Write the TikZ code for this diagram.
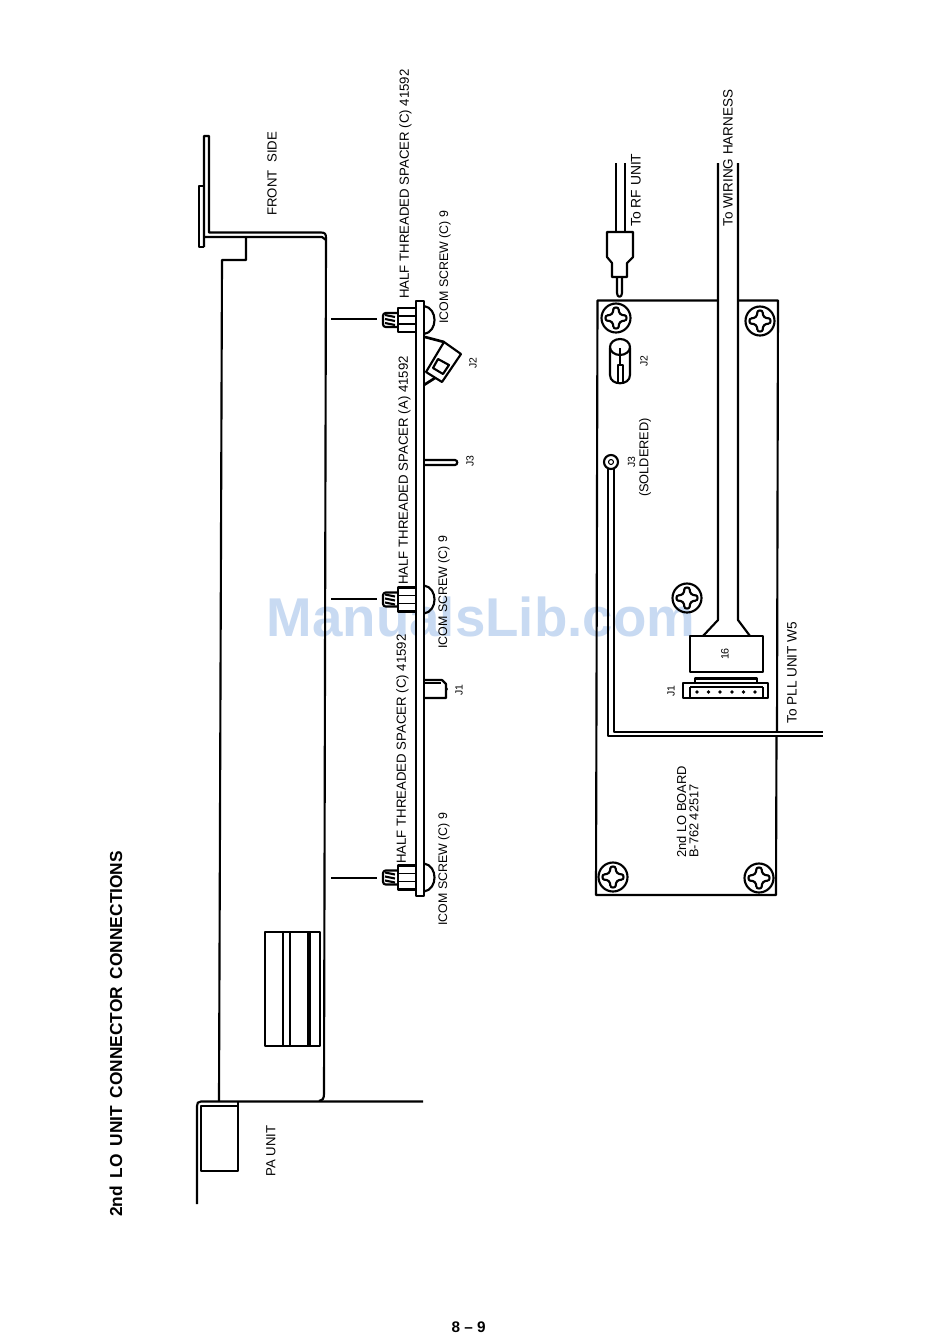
\documentclass[tikz,border=0pt]{standalone}
\usepackage{fontspec}
\setmainfont{Liberation Sans}
\definecolor{markblue}{HTML}{C8DAF2}
\tikzset{
  spacer/.pic={
    \draw[part line,fill=white] (-18,-12) rectangle (0,12);
    \draw[thin line] (-18,-4) -- (0,-4) (-18,4) -- (0,4);
    \draw[part line,rounded corners=2pt] (-18,-7) -- (-33,-7) -- (-33,7) -- (-18,7);
    \foreach \ty in {-5,-1,3} \draw[part line] (-31,\ty) -- (-21,\ty+2);
    \draw[part line] (8,-14) .. controls (22,-12) and (22,12) .. (8,14);
  },
  screwhead/.pic={
    \draw[part line] (0,0) circle (14.5);
    \foreach \ang in {0,90,180,270}
      \draw[part line,rotate=\ang] (9,2.6) .. controls (4.5,2.8) and (2.8,4.5) .. (2.6,9)
        .. controls (2.4,11) and (-2.4,11) .. (-2.6,9);
  }
}
\begin{document}
\begin{tikzpicture}[x=0.75pt,y=-0.75pt,line join=round,
  part line/.style={line width=1.6pt},
  thin line/.style={line width=0.8pt},
  label node/.style={rotate=90,anchor=west,inner sep=0pt,font=\fontsize{9.9}{11}\selectfont},
  small node/.style={rotate=90,inner sep=0pt,font=\fontsize{7.8}{9}\selectfont}]
  \useasboundingbox (0,0) rectangle (950,1343);
  \fill[white] (0,0) rectangle (950,1343);
  \node[inner sep=0pt,text=markblue,font=\fontsize{41}{50}\bfseries\selectfont] (mark) at (481,617) {ManualsLib.com};

  % side view
  \draw[part line] (204,247) -- (199,247) -- (199,186) -- (204,186);
  \draw[part line] (204,247) -- (204,136) -- (209,136) -- (209,232.5) -- (321,232.5)
    .. controls (325,232.5) and (326,234) .. (326,238) -- (324,1094)
    .. controls (324,1099) and (322,1101) .. (319,1101);
  \draw[part line] (204,237) -- (322,237) -- (326,240);
  \draw[part line] (246,237) -- (246,260) -- (222,260) -- (219,1101);
  \draw[part line] (265,932) rectangle (320,1046);
  \draw[part line] (283,932) -- (283,1046) (290,932) -- (290,1046);
  \draw[line width=2.6pt] (309,932) -- (309,1046);
  \draw[part line] (197,1204) -- (197,1106) .. controls (197,1103) and (198,1101.5) .. (201,1101.5) -- (423,1101.5);
  \draw[part line] (201,1106) rectangle (238,1171);
  \draw[part line] (238,1101.5) -- (238,1106);

  % board, side view
  \draw[part line,fill=white] (416,301) rectangle (424,896);
  \foreach \sy/\ly in {320/319,599.5/599,877.5/878} {
    \draw[thin line] (331,\ly) -- (377,\ly);
    \pic at (416,\sy) {spacer};
  }
  \draw[part line] (424,680) -- (442,680) -- (446,684) -- (446,698) -- (424,698);
  \draw[thin line] (424,683) -- (441,683);
  \fill (446,686) -- (448,689) -- (446,692);
  \draw[part line] (424,460) -- (455,460) .. controls (458,460) and (458,465) .. (455,465) -- (424,465);
  \draw[line width=2pt] (425,337) -- (444,342);
  \draw[line width=2pt] (424,385) -- (435,378);
  \draw[part line,fill=white] (444,342) -- (461,354) -- (442,382) -- (426,372) -- cycle;
  \draw[part line] (438,359) -- (449,365) -- (443,374) -- (433,368) -- cycle;

  % board, top view
  \draw[part line] (718,300.5) -- (597.5,300.5) -- (596,895) -- (776,895) -- (776.5,736);
  \draw[part line] (738,300.5) -- (778,300.5) -- (777,732);
  \pic at (616,318) {screwhead};
  \pic at (760,321) {screwhead};
  \pic at (687,598) {screwhead};
  \pic at (613,877) {screwhead};
  \pic at (759,878) {screwhead};

  % plug and cables
  \draw[part line] (616,163) -- (616,232) (625,163) -- (625,232);
  \draw[part line] (607,232) -- (633,232) -- (633,257) -- (627,263) -- (627,277) -- (612,277) -- (612,263) -- (607,257) -- cycle;
  \draw[part line] (617,278) -- (617,293) .. controls (617,298) and (622,298) .. (622,293) -- (622,278);
  \draw[part line] (610,348) -- (610,375) .. controls (610,386) and (630,386) .. (630,375) -- (630,348);
  \draw[part line] (620,347) ellipse (10 and 8);
  \draw[thin line] (620,348) -- (620,365);
  \draw[part line] (618,382) -- (618,365) -- (623,365) -- (623,382);

  % harness and connectors
  \draw[part line] (718,163) -- (718,620) -- (703,636);
  \draw[part line] (738,163) -- (738,620) -- (750,636);
  \draw[part line] (690,636) rectangle (763,672);
  \draw[part line] (683,683) rectangle (768,698);
  \draw[thin line] (690,687) -- (690,698) (763,687) -- (763,698) (690,687) -- (763,687);
  \draw[part line] (695,683) -- (695,678.5) -- (757,678.5) -- (757,683);
  \foreach \px in {697,708.5,720,732,743.5,755}
    \fill (\px,692) circle (1.8);
  \draw[part line] (611,462) circle (7);
  \draw[thin line] (611,462) circle (2.5);
  \draw[part line] (614,468) -- (614,732) -- (823,732);
  \draw[part line] (608,468) -- (608,736) -- (823,736);

  % labels
  \node[rotate=90,anchor=west,inner sep=0pt,font=\fontsize{13}{15}\selectfont\bfseries] (title) at (116,1217)
    {2nd\hspace{2.2pt} LO\hspace{2.2pt} UNIT\hspace{2.2pt} CONNECTOR\hspace{2.2pt} CONNECTIONS};
  \node[label node] (front) at (272,216) {FRONT\hspace{3pt} SIDE};
  \node[label node] (halfa) at (405.5,299) {HALF THREADED SPACER (C) 41592};
  \node[label node,font=\fontsize{9.3}{11}\selectfont] (icoma) at (445,324) {ICOM SCREW (C) 9};
  \node[label node] (halfb) at (404.5,585) {HALF THREADED SPACER (A) 41592};
  \node[label node,font=\fontsize{9.3}{11}\selectfont] (icomb) at (444,649) {ICOM SCREW (C) 9};
  \node[label node] (halfc) at (402.5,864) {HALF THREADED SPACER (C) 41592};
  \node[label node,font=\fontsize{9.3}{11}\selectfont] (icomc) at (444,926) {ICOM SCREW (C) 9};
  \node[label node] (pa) at (271,1177) {PA UNIT};
  \node[label node,font=\fontsize{10.4}{12}\selectfont] (rf) at (636,227) {To RF UNIT};
  \node[label node,font=\fontsize{10.1}{12}\selectfont] (wiring) at (728,227) {To WIRING HARNESS};
  \node[label node,font=\fontsize{10.2}{12}\selectfont] (pll) at (792,724) {To PLL UNIT W5};
  \node[label node,font=\fontsize{9.7}{11}\selectfont] (board) at (681.5,858) {2nd LO BOARD};
  \node[label node,font=\fontsize{9.6}{11}\selectfont] (number) at (694,858) {B-762 42517};
  \node[small node,font=\fontsize{9.6}{11}\selectfont] (solder) at (645,457.5) {(SOLDERED)};
  \node[small node] (jthree) at (631.5,462) {J3};
  \node[small node] (jtwo) at (644,361) {J2};
  \node[small node] (jone) at (671,691) {J1};
  \node[small node,font=\fontsize{8}{9}\selectfont] (sixteen) at (725,654) {16};
  \node[small node] (sidetwo) at (473,363) {J2};
  \node[small node] (sidethree) at (470,461) {J3};
  \node[small node] (sideone) at (459,690) {J1};
  \node[inner sep=0pt,font=\fontsize{11.5}{13}\bfseries\selectfont] (page) at (468.7,1327) {8 -- 9};
\end{tikzpicture}
\end{document}
